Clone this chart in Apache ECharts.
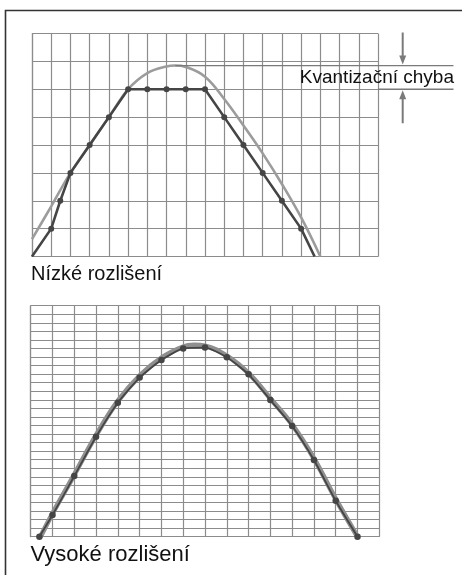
<!DOCTYPE html>
<html>
<head>
<meta charset="utf-8">
<script src="https://cdn.jsdelivr.net/npm/echarts@6/dist/echarts.min.js"></script>
<style>
html,body{margin:0;padding:0;background:#fff;}
#c{width:462px;height:575px;}
</style>
</head>
<body>
<div id="c"></div>
<script>
// ---- Data (top: low resolution) ----
const lowQuantX = [0, 1, 1.47, 2, 3, 4, 5, 6, 7, 8, 9, 10, 11, 12, 13, 14, 14.7];
const lowQuantY = [0, 1, 2, 3, 4, 5, 6, 6, 6, 6, 6, 5, 4, 3, 2, 1, 0];
const lowAnalogX = [0, 1, 2, 3, 4, 5, 6, 7, 7.45, 8, 9, 10, 11, 12, 13, 14, 15];
const lowAnalogY = [0.62, 1.8, 3.0, 4.0, 5.0, 6.0, 6.58, 6.82, 6.85, 6.8, 6.45, 5.65, 4.7, 3.7, 2.6, 1.4, 0];
const lowCols = 18, lowRows = 8;
const quantLevel = 6;

// ---- Data (bottom: high resolution) ----
const highQuantX = [0.4, 1, 2, 3, 4, 5, 6, 7, 8, 9, 10, 11, 12, 13, 14, 15];
const highQuantY = [0, 2.53, 7.09, 11.69, 15.66, 18.6, 20.65, 22.0, 22.1, 20.97, 18.98, 15.98, 12.94, 8.96, 4.2, 0];
const highAnalogX = [0.45, 1, 2, 3, 4, 5, 6, 7, 7.5, 8, 9, 10, 11, 12, 13, 14, 15];
const highAnalogY = [0, 2.7, 7.25, 11.85, 15.85, 18.8, 20.9, 22.2, 22.4, 22.3, 21.15, 19.1, 16.15, 13.1, 9.15, 4.4, 0];
const highCols = 16, highRows = 27;

// ---- Texts ----
const labelLow = 'Nízké rozlišení';
const labelHigh = 'Vysoké rozlišení';
const labelError = 'Kvantizační chyba';

const FONT = '"Liberation Sans", Arial, sans-serif';
const GRIDC = '#8c8c8c';
const DARK = '#454545';
const LIGHT = '#9c9c9c';

function pairs(xs, ys) { return xs.map((x, i) => [x, ys[i]]); }

function axisPair(idx, cols, rows) {
  const common = {
    type: 'value', gridIndex: idx, interval: 1, min: 0,
    axisLabel: { show: false }, axisTick: { show: false },
    axisLine: { show: true, lineStyle: { color: GRIDC, width: 1.2 } },
    splitLine: { show: true, lineStyle: { color: GRIDC, width: 1.2 } }
  };
  return [
    Object.assign({}, common, { max: cols }),
    Object.assign({}, common, { max: rows })
  ];
}
const ax0 = axisPair(0, lowCols, lowRows);
const ax1 = axisPair(1, highCols, highRows);

const lowQuantData = pairs(lowQuantX, lowQuantY).map((p, i, a) =>
  (i === 0 || i === a.length - 1) ? { value: p, symbol: 'none' } : { value: p });

const chart = echarts.init(document.getElementById('c'), null, { renderer: 'canvas' });
chart.setOption({
  animation: false,
  backgroundColor: '#fff',
  grid: [
    { left: 32, top: 33.5, width: 346, height: 223 },
    { left: 30.7, top: 305.7, width: 348.6, height: 231 }
  ],
  xAxis: [ax0[0], ax1[0]],
  yAxis: [ax0[1], ax1[1]],
  series: [
    { type: 'line', xAxisIndex: 0, yAxisIndex: 0, data: pairs(lowAnalogX, lowAnalogY),
      smooth: 0.4, symbol: 'none', lineStyle: { color: LIGHT, width: 2.6 }, z: 3 },
    { type: 'line', xAxisIndex: 0, yAxisIndex: 0, data: lowQuantData,
      symbol: 'circle', symbolSize: 6, itemStyle: { color: DARK },
      lineStyle: { color: DARK, width: 2.6 }, z: 4 },
    { type: 'line', xAxisIndex: 1, yAxisIndex: 1, data: pairs(highAnalogX, highAnalogY),
      smooth: 0.4, symbol: 'none', lineStyle: { color: '#8f8f8f', width: 5 }, z: 3 },
    { type: 'line', xAxisIndex: 1, yAxisIndex: 1, data: pairs(highQuantX, highQuantY),
      smooth: 0.2, symbol: 'circle', symbolSize: 6.5, itemStyle: { color: DARK },
      lineStyle: { color: DARK, width: 1.8 }, z: 4 }
  ]
});

// annotation positions derived from the axes
let peakIdx = 0;
lowAnalogY.forEach((v, i) => { if (v > lowAnalogY[peakIdx]) peakIdx = i; });
const peakPx = chart.convertToPixel({ gridIndex: 0 }, [lowAnalogX[peakIdx], lowAnalogY[peakIdx]]);
const lvlPx = chart.convertToPixel({ gridIndex: 0 }, [lowCols, quantLevel]);
const gridTopPx = chart.convertToPixel({ gridIndex: 0 }, [0, lowRows])[1];
const lowBottom = chart.convertToPixel({ gridIndex: 0 }, [0, 0])[1];
const highBottom = chart.convertToPixel({ gridIndex: 1 }, [0, 0])[1];
const annX = 402.7, lineEnd = 453.5;
const ANN = '#7a7a7a';

chart.setOption({
  graphic: [
    { type: 'polyline', silent: true, shape: { points: [[5.5, 600], [5.5, 10.5], [470, 10.5]] },
      style: { stroke: '#333', lineWidth: 1.6, fill: null } },
    { type: 'line', shape: { x1: peakPx[0], y1: peakPx[1], x2: lineEnd, y2: peakPx[1] },
      style: { stroke: ANN, lineWidth: 1.3 }, z: 10 },
    { type: 'line', shape: { x1: lvlPx[0], y1: lvlPx[1], x2: lineEnd, y2: lvlPx[1] },
      style: { stroke: ANN, lineWidth: 1.3 }, z: 10 },
    // down arrow
    { type: 'line', shape: { x1: annX, y1: gridTopPx - 1, x2: annX, y2: peakPx[1] - 8 },
      style: { stroke: ANN, lineWidth: 2 }, z: 10 },
    { type: 'polygon', shape: { points: [[annX - 3.5, peakPx[1] - 10], [annX + 3.5, peakPx[1] - 10], [annX, peakPx[1] - 1]] },
      style: { fill: ANN }, z: 10 },
    // up arrow
    { type: 'line', shape: { x1: annX, y1: lvlPx[1] + 8, x2: annX, y2: lvlPx[1] + 34 },
      style: { stroke: ANN, lineWidth: 2 }, z: 10 },
    { type: 'polygon', shape: { points: [[annX - 3.5, lvlPx[1] + 10], [annX + 3.5, lvlPx[1] + 10], [annX, lvlPx[1] + 1]] },
      style: { fill: ANN }, z: 10 },
    { type: 'text', style: { text: labelError, x: 454, y: (peakPx[1] + lvlPx[1]) / 2 + 0.5,
      fill: '#111', font: '19px ' + FONT, textAlign: 'right', textVerticalAlign: 'middle' }, z: 11 },
    { type: 'text', style: { text: labelLow, x: 31, y: lowBottom + 17.5,
      fill: '#111', font: '20px ' + FONT, textAlign: 'left', textVerticalAlign: 'middle' } },
    { type: 'text', style: { text: labelHigh, x: 30.5, y: highBottom + 18.5,
      fill: '#111', font: '22px ' + FONT, textAlign: 'left', textVerticalAlign: 'middle' } }
  ]
});
</script>
</body>
</html>
